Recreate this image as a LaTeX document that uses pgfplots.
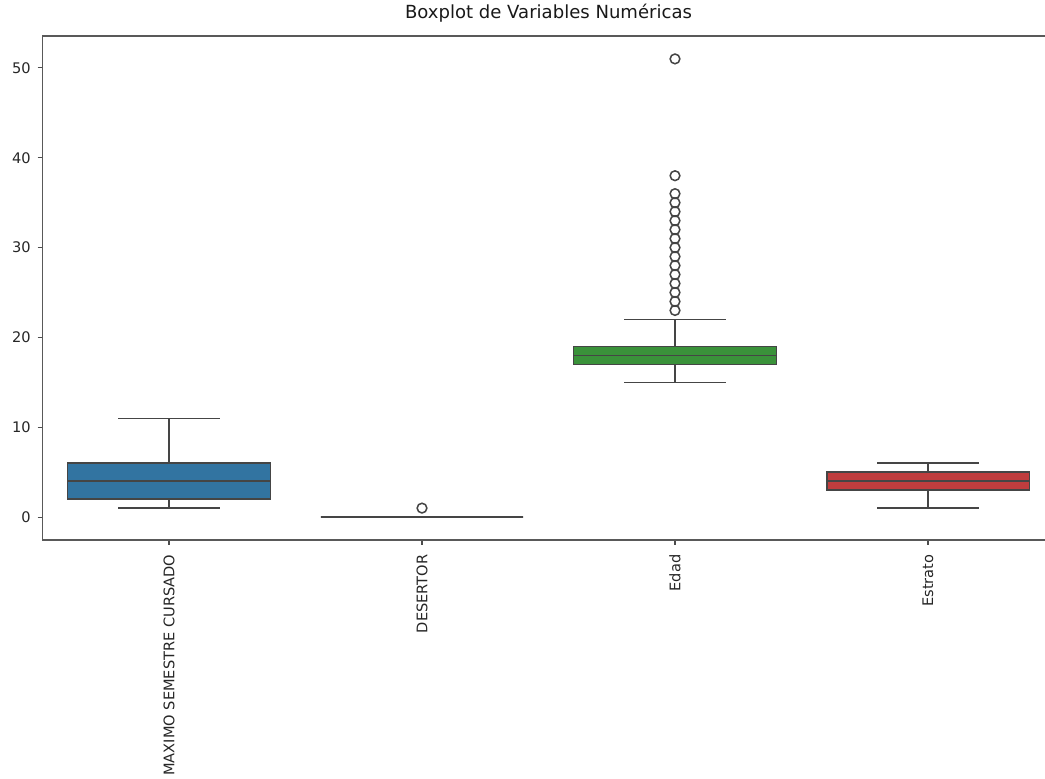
\documentclass[border=0pt]{standalone}
\usepackage{fontspec}
\setmainfont{DejaVu Sans}
\usepackage{pgfplots}
\pgfplotsset{compat=1.18}
\usepgfplotslibrary{statistics}

\definecolor{boxblue}{HTML}{3274A1}
\definecolor{boxorange}{HTML}{E1812C}
\definecolor{boxgreen}{HTML}{3A923A}
\definecolor{boxred}{HTML}{C03D3E}
\definecolor{edge}{HTML}{454545}

\begin{document}
\begin{tikzpicture}
\begin{axis}[
  at={(30.6pt,172.08pt)}, anchor=south west,
  scale only axis, width=728.64pt, height=362.88pt,
  xmin=-0.5, xmax=3.5, ymin=-2.55, ymax=53.55,
  xtick={0,1,2,3},
  xticklabels={MAXIMO SEMESTRE CURSADO, DESERTOR, Edad, Estrato},
  xticklabel style={rotate=90, anchor=east, font=\fontsize{10.5}{12}\selectfont, text=black!85},
  xticklabel shift=3.5pt,
  ytick={0,10,20,30,40,50},
  yticklabel style={font=\fontsize{10.5}{12}\selectfont, text=black!85},
  yticklabel shift=1.5pt,
  /pgf/number format/assume math mode=true,
  tick align=outside, tick pos=left, major tick length=3.5pt,
  tick style={black!70, line width=0.8pt},
  axis line style={black!65, line width=0.8pt},
  title={Boxplot de Variables Numéricas},
  title style={font=\fontsize{13}{15}\selectfont, anchor=base, yshift=6.5pt, inner sep=0pt, text=black!90},
  boxplot/draw direction=y,
  boxplot/box extend=0.8,
  boxplot/whisker extend=0.4,
]
% MAXIMO SEMESTRE CURSADO
\addplot[draw=edge, fill=boxblue, line width=1pt, mark=o,
  mark options={draw=edge, fill=white, line width=1.1pt}, mark size=3.5pt,
  boxplot prepared={draw position=0, median=4, lower quartile=2, upper quartile=6,
    lower whisker=1, upper whisker=11}] coordinates {};
% DESERTOR
\addplot[draw=edge, fill=boxorange, line width=1pt, mark=o,
  mark options={draw=edge, fill=white, line width=1.1pt}, mark size=3.5pt,
  boxplot prepared={draw position=1, median=0, lower quartile=0, upper quartile=0,
    lower whisker=0, upper whisker=0}]
  table[row sep=\\, y index=0] {v\\ 1\\};
% Edad
\addplot[draw=edge, fill=boxgreen, line width=1pt, mark=o,
  mark options={draw=edge, fill=white, line width=1.1pt}, mark size=3.5pt,
  boxplot prepared={draw position=2, median=18, lower quartile=17, upper quartile=19,
    lower whisker=15, upper whisker=22}]
  table[row sep=\\, y index=0] {v\\ 23\\ 24\\ 25\\ 26\\ 27\\ 28\\ 29\\ 30\\ 31\\ 32\\ 33\\ 34\\ 35\\ 36\\ 38\\ 51\\};
% Estrato
\addplot[draw=edge, fill=boxred, line width=1pt, mark=o,
  mark options={draw=edge, fill=white, line width=1.1pt}, mark size=3.5pt,
  boxplot prepared={draw position=3, median=4, lower quartile=3, upper quartile=5,
    lower whisker=1, upper whisker=6}] coordinates {};
\end{axis}
\pgfresetboundingbox
\useasboundingbox (0,0) rectangle (752.4pt,560.88pt);
\end{tikzpicture}
\end{document}
